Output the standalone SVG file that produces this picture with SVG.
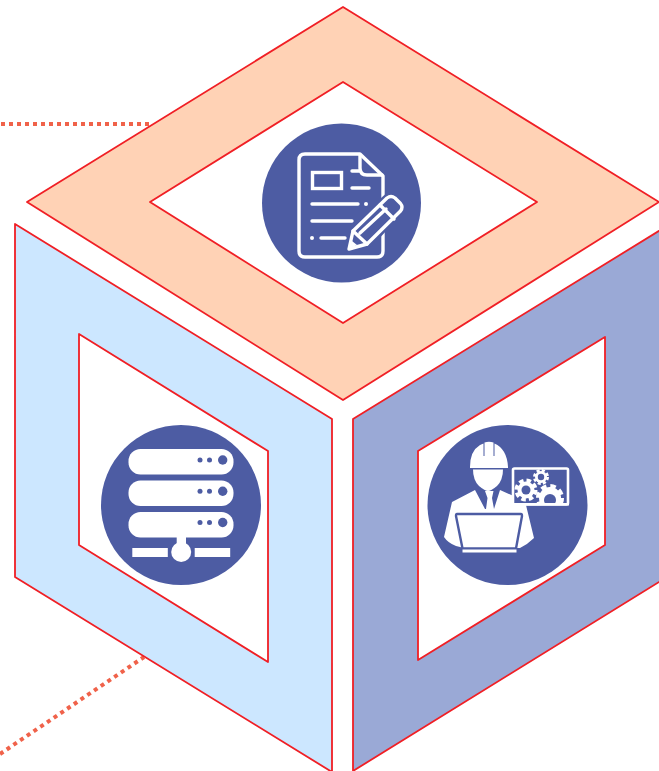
<svg xmlns="http://www.w3.org/2000/svg" width="659" height="771" viewBox="0 0 659 771">
<style>
.face{stroke:#F01F25;stroke-width:1.8;stroke-linejoin:round;fill-rule:evenodd}
.disc{fill:#4D5CA3}
.w{fill:#fff}
.b{fill:#4D5CA3}
.ln{fill:none;stroke:#fff;stroke-width:3.4;stroke-linecap:round;stroke-linejoin:round}
.dot{fill:none;stroke:#F0624A;stroke-width:4}
.tooth{fill:none;stroke:#fff}
</style>
<defs>
<clipPath id="screen"><rect x="513" y="469" width="55" height="34"/></clipPath>
</defs>
<rect width="659" height="771" fill="#fff"/>
<g id="connectors">
<path class="dot" d="M1 124H149" stroke-dasharray="4 4"/>
<path class="dot" d="M0 754L144 657" stroke-dasharray="4 4.1"/>
</g>
<g id="top-face">
<path class="face" fill="#FFD2B5" d="M343 7L659 202L343 400L27 202ZM343 82L150 202L343 323L537 202Z"/>
<circle class="disc" cx="341.500" cy="203" r="79.500"/>
<path class="ln" d="M383 228V251Q383 257 377 257H305Q299 257 299 251V160Q299 154 305 154H360L383 176V198"/>
<path class="ln" d="M360 155V168Q360 175 367 175H382M352 171H360"/>
<rect x="312.500" y="172.500" width="29" height="16" fill="none" stroke="#fff" stroke-width="3.400"/>
<path class="ln" d="M352 188H369M312 204H358M312 221H352M321 238H345"/>
<circle class="w" cx="366" cy="204" r="2"/>
<circle class="w" cx="312" cy="238" r="2"/>
<path class="b" d="M345 252L352 224L390 190L408 208L372 246Z"/>
<path class="ln" d="M349 249L353 231L387 198Q391 195 395 198L400.500 203.500Q403.500 207 400.500 211L367 244Z"/>
<path class="ln" d="M380 205L394 219M360 233L386 209M353 231L367 244"/>
<path class="w" d="M350 248L352 241L357 245Z"/>
</g>
<g id="left-face">
<path class="face" fill="#CCE7FF" d="M15 224L332 419V772L15 577ZM79 334L79 545L268 662V451Z"/>
<circle class="disc" cx="181" cy="505" r="80"/>
<rect class="w" x="128.500" y="449" width="105" height="25.500" rx="12"/>
<rect class="w" x="128.500" y="480.500" width="105" height="25.500" rx="12"/>
<rect class="w" x="128.500" y="512" width="105" height="25.500" rx="12"/>
<g class="b">
<circle cx="200" cy="460" r="2.500"/><circle cx="209.500" cy="460" r="2.500"/><circle cx="222.700" cy="460" r="4.700"/>
<circle cx="200" cy="491.300" r="2.500"/><circle cx="209.500" cy="491.300" r="2.500"/><circle cx="222.700" cy="491.300" r="4.700"/>
<circle cx="200" cy="522.500" r="2.500"/><circle cx="209.500" cy="522.500" r="2.500"/><circle cx="222.700" cy="522.500" r="4.700"/>
</g>
<rect class="w" x="176.700" y="537" width="9.300" height="10"/>
<circle class="w" cx="181.200" cy="552" r="10"/>
<rect class="w" x="132.300" y="548" width="35.500" height="9"/>
<rect class="w" x="194.700" y="548" width="35.500" height="9"/>
</g>
<g id="right-face">
<path class="face" fill="#9AA9D6" d="M353 419L680 218V569L353 771ZM418 451V660L605 545V337Z"/>
<circle class="disc" cx="507.500" cy="505" r="80"/>
<path class="w" d="M470 467Q470 451 480 445L483.500 443.500V456H484.500V442.500Q489 441 493.500 442.500V456H494.500V443.500Q507 449 508 467V468H470Z"/>
<path class="w" d="M452 502L475 490L485 509H494L500 490L525 501L534 538Q528 544 520 548H464L456 546Q448 543 444 537Z"/>
<path class="w" d="M485 491H493.500L492 498L494 509L489.500 514L486 509L487.500 498Z"/>
<path class="w" d="M473 469.500H503Q503 480 497 486Q491 491 488 491Q485 491 479 486Q473 480 473 469.500Z"/>
<path class="w" stroke="#4D5CA3" stroke-width="2.400" stroke-linejoin="round" d="M457 514H521Q522 514 522 516L516 548.500H462.500L456 516Q456 514 457 514Z"/>
<rect class="w" x="462.500" y="549.500" width="54" height="3"/>
<rect x="513" y="468.500" width="55" height="36" rx="1.500" fill="#4D5CA3" stroke="#fff" stroke-width="2.600"/>
<g clip-path="url(#screen)">
<circle class="w" cx="526" cy="490" r="8.500"/>
<circle class="tooth" cx="526" cy="490" r="9.500" stroke-width="4" stroke-dasharray="4.500 3"/>
<circle class="b" cx="526" cy="490" r="4.500"/>
<circle class="w" cx="541" cy="477" r="6"/>
<circle class="tooth" cx="541" cy="477" r="6.500" stroke-width="3" stroke-dasharray="3 2.100"/>
<circle class="b" cx="541" cy="477" r="3.200"/>
<circle class="w" cx="550" cy="498" r="11"/>
<circle class="tooth" cx="550" cy="498" r="12" stroke-width="4" stroke-dasharray="5.500 3.920"/>
<circle class="b" cx="550" cy="500" r="6"/>
</g>
<rect class="w" x="512" y="503" width="57" height="2.500"/>
</g>
</svg>
